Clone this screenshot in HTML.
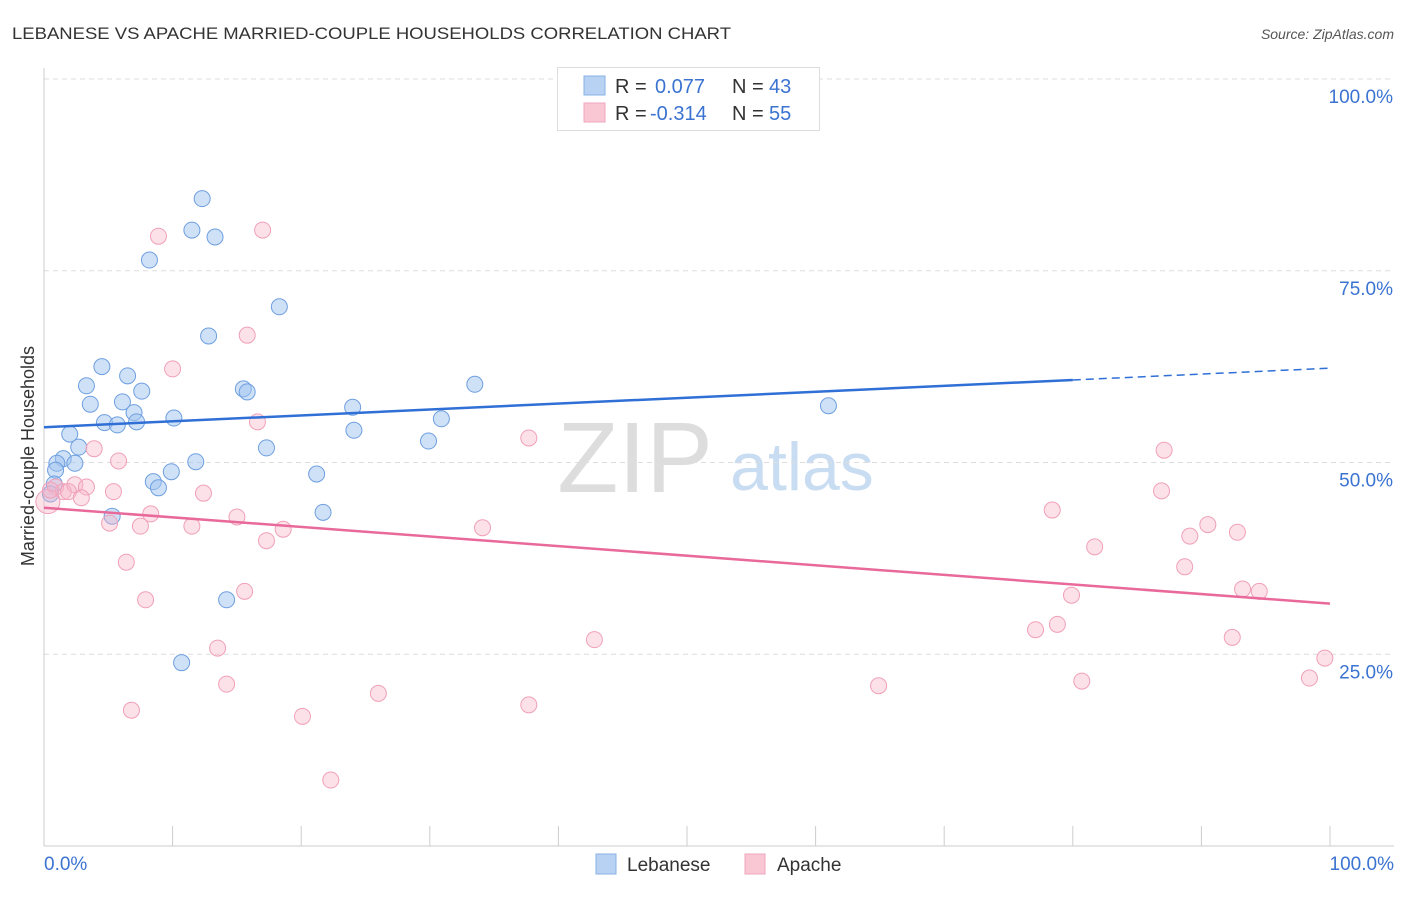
<!DOCTYPE html>
<html><head><meta charset="utf-8"><style>
body{margin:0;background:#fff;font-family:"Liberation Sans",sans-serif}
svg text{font-family:"Liberation Sans",sans-serif}
</style></head><body>
<svg id="c" width="1406" height="892" xmlns="http://www.w3.org/2000/svg">
<text x="12" y="39" font-size="17" fill="#333" textLength="719" lengthAdjust="spacingAndGlyphs">LEBANESE VS APACHE MARRIED-COUPLE HOUSEHOLDS CORRELATION CHART</text>
<text x="1394" y="39" font-size="14" fill="#555" font-style="italic" text-anchor="end">Source: ZipAtlas.com</text>
<text x="635" y="492" font-size="100" fill="#ddd" font-family="Liberation Serif" text-anchor="middle">ZIP</text>
<text x="802" y="490" font-size="68" fill="#c8dcf2" text-anchor="middle">atlas</text>
<g id="grid"></g>
<text transform="translate(34,456) rotate(-90)" font-size="18" fill="#333" text-anchor="middle">Married-couple Households</text>
<g id="marks"></g>
<g>
<rect x="557.5" y="67.5" width="262" height="63" fill="#fff" stroke="#ddd"/>
<rect x="584" y="76" width="21" height="19" fill="#b8d2f4" stroke="#8ab0e6"/>
<rect x="584" y="103" width="21" height="19" fill="#f9c6d4" stroke="#f0a6bc"/>
<text x="615" y="93" font-size="20" fill="#333">R = </text><text x="655" y="93" font-size="20" fill="#3b73d1">0.077</text>
<text x="732" y="93" font-size="20" fill="#333">N = </text><text x="769" y="93" font-size="20" fill="#3b73d1">43</text>
<text x="615" y="120" font-size="20" fill="#333">R = </text><text x="650" y="120" font-size="20" fill="#3b73d1">-0.314</text>
<text x="732" y="120" font-size="20" fill="#333">N = </text><text x="769" y="120" font-size="20" fill="#3b73d1">55</text>
</g>
<g>
<rect x="596" y="854" width="20" height="20" fill="#b8d2f4" stroke="#8ab0e6"/>
<text x="627" y="871" font-size="19" fill="#333">Lebanese</text>
<rect x="745" y="854" width="20" height="20" fill="#f9c6d4" stroke="#f0a6bc"/>
<text x="777" y="871" font-size="19" fill="#333">Apache</text>
</g>
</svg>
<script>
const blueX=[12.3,11.5,13.3,8.2,18.3,12.8,4.5,3.3,6.5,7.6,33.5,15.5,15.8,3.6,6.1,24.0,61.0,7.0,4.7,5.7,7.2,10.1,30.9,2.0,24.1,29.9,17.3,2.7,1.5,1.0,2.4,11.8,9.9,21.2,8.5,8.9,0.9,0.8,0.5,5.3,21.7,14.2,10.7];
const blueY=[84.4,80.3,79.4,76.4,70.3,66.5,62.5,60.0,61.3,59.3,60.2,59.6,59.2,57.6,57.9,57.2,57.4,56.5,55.2,54.9,55.3,55.8,55.7,53.7,54.2,52.8,51.9,52.0,50.5,49.9,49.9,50.1,48.8,48.5,47.5,46.7,49.0,47.2,45.9,43.0,43.5,32.1,23.9];
const pinkX=[8.9,17.0,15.8,10.0,37.7,87.1,3.9,5.8,16.6,0.9,1.5,2.4,3.3,1.9,2.9,5.4,12.4,8.3,15.0,86.9,78.4,7.5,5.1,11.5,18.6,34.1,90.5,92.8,89.1,81.7,17.3,6.4,88.7,15.6,93.2,94.5,79.9,7.9,78.8,77.1,42.8,92.4,13.5,99.6,14.2,98.4,80.7,64.9,26.0,6.8,37.7,20.1,22.3,0.3,0.5];
const pinkY=[79.5,80.3,66.6,62.2,53.2,51.6,51.8,50.2,55.3,46.8,46.2,47.1,46.8,46.2,45.4,46.2,46.0,43.3,42.9,46.3,43.8,41.7,42.1,41.7,41.3,41.5,41.9,40.9,40.4,39.0,39.8,37.0,36.4,33.2,33.5,33.2,32.7,32.1,28.9,28.2,26.9,27.2,25.8,24.5,21.1,21.9,21.5,20.9,19.9,17.7,18.4,16.9,8.6,44.9,46.4];
const blueTrend=[54.6,62.3];
const pinkTrend=[44.1,31.6];
const yTicks=[100,75,50,25];
const yTickLabels=["100.0%","75.0%","50.0%","25.0%"];
const NS="http://www.w3.org/2000/svg";
const X=v=>44+v*12.86, Y=v=>846-v*7.67;
function mk(t,a,p){const e=document.createElementNS(NS,t);for(const k in a)e.setAttribute(k,a[k]);p.appendChild(e);return e;}
const grid=document.getElementById('grid'), marks=document.getElementById('marks');
yTicks.forEach((t,i)=>{
 const l=mk('line',{x1:44,x2:1394,y1:Y(t),y2:Y(t),stroke:'#ddd','stroke-dasharray':'5,4'},grid);
 
 
 const tx=mk('text',{x:1393,y:Y(t)+24,'font-size':19,fill:'#3b73d1','text-anchor':'end'},grid);tx.textContent=yTickLabels[i];
 
 
});
const ax=mk('line',{x1:44,x2:44,y1:68,y2:846,stroke:'#ccc'},grid);


const bx=mk('line',{x1:44,x2:1394,y1:846,y2:846,stroke:'#ccc'},grid);


for(let i=0;i<=10;i++){const t=mk('line',{x1:X(i*10),x2:X(i*10),y1:826,y2:846,stroke:'#ccc'},grid);
 
 }
const x0=mk('text',{x:44,y:870,'font-size':19,fill:'#3b73d1'},grid);x0.textContent='0.0%';


const x1=mk('text',{x:1394,y:870,'font-size':19,fill:'#3b73d1','text-anchor':'end'},grid);x1.textContent='100.0%';


blueX.forEach((v,i)=>{const c=mk('circle',{cx:X(v),cy:Y(blueY[i]),r:8,fill:'rgba(160,196,240,0.5)',stroke:'#6f9fe0','stroke-width':1},marks);
 
 });
pinkX.forEach((v,i)=>{const c=mk('circle',{cx:X(v),cy:Y(pinkY[i]),r:i==53?12:8,fill:'rgba(248,180,200,0.4)',stroke:'#f0a0b8','stroke-width':1},marks);
 
 });
const bs=(blueTrend[1]-blueTrend[0])/100;
const l1=mk('line',{x1:X(0),y1:Y(blueTrend[0]),x2:X(80),y2:Y(blueTrend[0]+bs*80),stroke:'#2f6fd6','stroke-width':2.5},marks);


const l2=mk('line',{x1:X(80),y1:Y(blueTrend[0]+bs*80),x2:X(100),y2:Y(blueTrend[1]),stroke:'#2f6fd6','stroke-width':1.5,'stroke-dasharray':'8,5'},marks);


const l3=mk('line',{x1:X(0),y1:Y(pinkTrend[0]),x2:X(100),y2:Y(pinkTrend[1]),stroke:'#e8699a','stroke-width':2.5},marks);


</script>
</body></html>
